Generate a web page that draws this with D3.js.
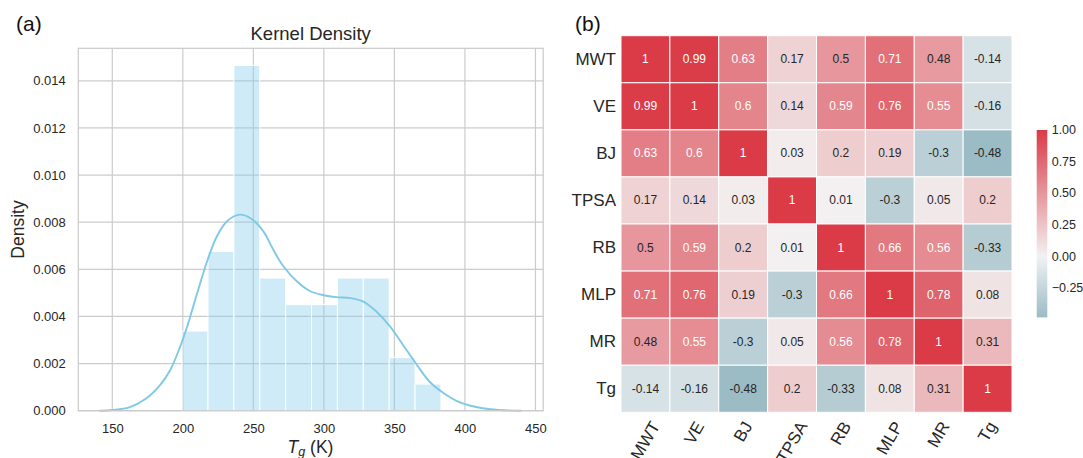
<!DOCTYPE html>
<html>
<head>
<meta charset="utf-8">
<script src="https://cdn.jsdelivr.net/npm/d3@7"></script>
<style>
  html, body { margin: 0; padding: 0; background: #fff; }
  svg { display: block; font-family: "Liberation Sans", Arial, sans-serif; }
</style>
</head>
<body>
<svg id="chart" width="1083" height="458"></svg>
<script>
// ---------------- DATA ----------------
// (a) histogram of Tg (density-normalised)
const binEdges = [199.5, 217.85, 236.2, 254.55, 272.9, 291.25, 309.6, 327.95, 346.3, 364.65, 383.0];
const binDensity = [0.00338, 0.00676, 0.01465, 0.00563, 0.0045, 0.0045, 0.00563, 0.00563, 0.00225, 0.00113];
// kernel density curve
const kdeX = [141, 150, 162, 174, 184, 191, 198, 203, 210, 217, 224, 231, 240, 248, 257, 264, 271, 281, 290, 300, 309, 319, 328, 337, 347, 356, 366, 375, 385, 394, 404, 418, 440];
const kdeY = [0, 0.00003, 0.00014, 0.00052, 0.0011, 0.00172, 0.0027, 0.00355, 0.00495, 0.0063, 0.00738, 0.00802, 0.00832, 0.00817, 0.00762, 0.00685, 0.00615, 0.00548, 0.00508, 0.0049, 0.00482, 0.00478, 0.00463, 0.00422, 0.00357, 0.0028, 0.00194, 0.00123, 0.00074, 0.00042, 0.00021, 0.00006, 0];
const xTicks = [150, 200, 250, 300, 350, 400, 450];
const yTicks = [0, 0.002, 0.004, 0.006, 0.008, 0.010, 0.012, 0.014];

// (b) correlation matrix
const variables = ["MWT", "VE", "BJ", "TPSA", "RB", "MLP", "MR", "Tg"];
const corrMWT  = [1, 0.99, 0.63, 0.17, 0.5, 0.71, 0.48, -0.14];
const corrVE   = [0.99, 1, 0.6, 0.14, 0.59, 0.76, 0.55, -0.16];
const corrBJ   = [0.63, 0.6, 1, 0.03, 0.2, 0.19, -0.3, -0.48];
const corrTPSA = [0.17, 0.14, 0.03, 1, 0.01, -0.3, 0.05, 0.2];
const corrRB   = [0.5, 0.59, 0.2, 0.01, 1, 0.66, 0.56, -0.33];
const corrMLP  = [0.71, 0.76, 0.19, -0.3, 0.66, 1, 0.78, 0.08];
const corrMR   = [0.48, 0.55, -0.3, 0.05, 0.56, 0.78, 1, 0.31];
const corrTg   = [-0.14, -0.16, -0.48, 0.2, -0.33, 0.08, 0.31, 1];
const colorbarTicks = [-0.25, 0, 0.25, 0.5, 0.75, 1.0];

// ---------------- COLOUR MAP (seaborn diverging_palette(220, 10), center 0) ----------------
function huslToRgb(H, S, L) {
  const m = [[3.2406, -1.5372, -0.4986], [-0.9689, 1.8758, 0.0415], [0.0557, -0.2040, 1.0570]];
  const refU = 0.19784, refV = 0.46834, labE = 0.008856, labK = 903.3;
  const hrad = H * Math.PI / 180, sinH = Math.sin(hrad), cosH = Math.cos(hrad);
  const sub1 = Math.pow(L + 16, 3) / 1560896;
  const sub2 = sub1 > labE ? sub1 : L / labK;
  let maxC = Infinity;
  for (const [m1, m2, m3] of m) {
    const top = (0.99915 * m1 + 1.05122 * m2 + 1.14460 * m3) * sub2;
    const rb = 0.86330 * m3 - 0.17266 * m2;
    const lb = 0.12949 * m3 - 0.38848 * m1;
    const bottom = (rb * sinH + lb * cosH) * sub2;
    for (const t of [0, 1]) {
      const C = L * (top - 1.05122 * t) / (bottom + 0.17266 * sinH * t);
      if (C > 0 && C < maxC) maxC = C;
    }
  }
  const C = maxC / 100 * S;
  const U = Math.cos(hrad) * C, V = Math.sin(hrad) * C;
  const tt = (L + 16) / 116;
  const Y = Math.pow(tt, 3) > labE ? Math.pow(tt, 3) : (116 * tt - 16) / labK;
  const vu = U / (13 * L) + refU, vv = V / (13 * L) + refV;
  const X = -(9 * Y * vu) / ((vu - 4) * vv - vu * vv);
  const Z = (9 * Y - 15 * vv * Y - vv * X) / (3 * vv);
  return m.map(r => {
    const c = r[0] * X + r[1] * Y + r[2] * Z;
    const v = c <= 0.0031308 ? 12.92 * c : 1.055 * Math.pow(c, 1 / 2.4) - 0.055;
    return Math.max(0, Math.min(1, v));
  });
}
const blueEnd = huslToRgb(220, 75, 50), blueGray = huslToRgb(220, 75 * 0.15, 95);
const redEnd = huslToRgb(10, 75, 50), redGray = huslToRgb(10, 75 * 0.15, 95);
const mix = (a, b, t) => a.map((v, i) => v + (b[i] - v) * t);
const pal = [];
for (let i = 0; i < 128; i++) pal.push(mix(blueEnd, blueGray, i / 127));
pal.push([0.95, 0.95, 0.95]);
for (let i = 0; i < 128; i++) pal.push(mix(redGray, redEnd, i / 127));
function cmapRgb(v) {
  const f = Math.max(0, Math.min(256, 128 + 128 * v));
  const i0 = Math.min(255, Math.floor(f));
  return mix(pal[i0], pal[i0 + 1], f - i0);
}
const toCss = c => d3.rgb(c[0] * 255, c[1] * 255, c[2] * 255).formatHex();
function lum(c) {
  const l = c.map(v => v <= 0.03928 ? v / 12.92 : Math.pow((v + 0.055) / 1.055, 2.4));
  return 0.2126 * l[0] + 0.7152 * l[1] + 0.0722 * l[2];
}

// ---------------- DRAW ----------------
const svg = d3.select("#chart");
svg.append("rect").attr("width", 1083).attr("height", 458).attr("fill", "#fff");
const textCol = "#262626";
const gridCol = "#cccccc";

// ===== Panel (a) =====
const x = d3.scaleLinear().domain([125.9, 455.5]).range([78.3, 543.2]);
const y = d3.scaleLinear().domain([0, 0.01538]).range([410.7, 48.3]);
const pa = svg.append("g");

// grid
pa.append("g").selectAll("line").data(xTicks).join("line")
  .attr("x1", d => x(d)).attr("x2", d => x(d)).attr("y1", y.range()[1]).attr("y2", y.range()[0])
  .attr("stroke", gridCol).attr("stroke-width", 1.2);
pa.append("g").selectAll("line").data(yTicks).join("line")
  .attr("x1", x.range()[0]).attr("x2", x.range()[1]).attr("y1", d => y(d)).attr("y2", d => y(d))
  .attr("stroke", gridCol).attr("stroke-width", 1.2);

// histogram bars
pa.append("g").selectAll("rect").data(binDensity).join("rect")
  .attr("x", (d, i) => x(binEdges[i]))
  .attr("width", (d, i) => x(binEdges[i + 1]) - x(binEdges[i]))
  .attr("y", d => y(d))
  .attr("height", d => y(0) - y(d))
  .attr("fill", "#87ceeb").attr("fill-opacity", 0.4)
  .attr("stroke", "#ffffff").attr("stroke-width", 1);

// KDE line
const kdePts = kdeX.map((v, i) => [v, kdeY[i]]);
pa.append("path").datum(kdePts)
  .attr("d", d3.line().x(d => x(d[0])).y(d => y(d[1])).curve(d3.curveCatmullRom.alpha(0.5)))
  .attr("fill", "none").attr("stroke", "#80c9e4").attr("stroke-width", 1.9);

// frame
pa.append("rect")
  .attr("x", x.range()[0]).attr("y", y.range()[1])
  .attr("width", x.range()[1] - x.range()[0]).attr("height", y.range()[0] - y.range()[1])
  .attr("fill", "none").attr("stroke", gridCol).attr("stroke-width", 1.25);

// axes
const xAxis = pa.append("g").attr("transform", `translate(0,${y.range()[0]})`)
  .call(d3.axisBottom(x).tickValues(xTicks).tickSize(0).tickPadding(13).tickFormat(d3.format("d")));
const yAxis = pa.append("g").attr("transform", `translate(${x.range()[0]},0)`)
  .call(d3.axisLeft(y).tickValues(yTicks).tickSize(0).tickPadding(12.5).tickFormat(d3.format(".3f")));
[xAxis, yAxis].forEach(g => {
  g.select(".domain").remove();
  g.selectAll("text").attr("fill", textCol).style("font-size", "13px").style("font-family", "'Liberation Sans', Arial, sans-serif");
});

// labels
pa.append("text").attr("x", 310.7).attr("y", 40).attr("text-anchor", "middle")
  .attr("fill", textCol).style("font-size", "18.5px").text("Kernel Density");
pa.append("text").attr("transform", "translate(18.3,229.5) rotate(-90)")
  .attr("text-anchor", "middle").attr("dominant-baseline", "central")
  .attr("fill", textCol).style("font-size", "17.5px").text("Density");
const xl = pa.append("text").attr("x", 310.5).attr("y", 452.5).attr("text-anchor", "middle")
  .attr("fill", textCol).style("font-size", "17.5px");
xl.append("tspan").attr("font-style", "italic").text("T");
xl.append("tspan").attr("font-style", "italic").attr("dy", 3).style("font-size", "12.5px").text("g");
xl.append("tspan").attr("dy", -3).text(" (K)");

svg.append("text").attr("x", 16).attr("y", 30.6).attr("fill", "#111").style("font-size", "21px").text("(a)");
svg.append("text").attr("x", 575).attr("y", 30.6).attr("fill", "#111").style("font-size", "21px").text("(b)");

// ===== Panel (b) =====
const matrix = [corrMWT, corrVE, corrBJ, corrTPSA, corrRB, corrMLP, corrMR, corrTg];
const xb = d3.scaleBand().domain(variables).range([621, 1012]);
const yb = d3.scaleBand().domain(variables).range([35.7, 412.3]);
const pb = svg.append("g");
const cells = [];
matrix.forEach((row, i) => row.forEach((v, j) => cells.push({ r: variables[i], c: variables[j], v })));

pb.append("g").selectAll("rect").data(cells).join("rect")
  .attr("x", d => xb(d.c)).attr("y", d => yb(d.r))
  .attr("width", xb.bandwidth()).attr("height", yb.bandwidth())
  .attr("fill", d => toCss(cmapRgb(d.v)))
  .attr("stroke", "#fff").attr("stroke-width", 1);

pb.append("g").selectAll("text").data(cells).join("text")
  .attr("x", d => xb(d.c) + xb.bandwidth() / 2)
  .attr("y", d => yb(d.r) + yb.bandwidth() / 2)
  .attr("text-anchor", "middle").attr("dominant-baseline", "central")
  .style("font-size", "12px")
  .attr("fill", d => lum(cmapRgb(d.v)) > 0.408 ? textCol : "#ffffff")
  .text(d => String(d.v));

// y labels
pb.append("g").selectAll("text").data(variables).join("text")
  .attr("x", 616).attr("y", d => yb(d) + yb.bandwidth() / 2)
  .attr("text-anchor", "end").attr("dominant-baseline", "central")
  .attr("fill", textCol).style("font-size", "17px").text(d => d);

// x labels rotated 60 deg
const xlab = pb.append("g").selectAll("text").data(variables).join("text")
  .attr("text-anchor", "middle").attr("dominant-baseline", "central")
  .attr("fill", textCol).style("font-size", "17px").text(d => d);
xlab.each(function (d) {
  const w = this.getComputedTextLength();
  const cy = 420 + (w * Math.sin(Math.PI / 3) + 12.2 * 0.5) / 2;
  d3.select(this).attr("transform", `translate(${xb(d) + xb.bandwidth() / 2},${cy}) rotate(-60)`);
});

// colorbar
const vmin = d3.min(matrix.flat()), vmax = d3.max(matrix.flat());
const cb = d3.scaleLinear().domain([vmin, vmax]).range([317.4, 130]);
const grad = svg.append("defs").append("linearGradient").attr("id", "cbgrad")
  .attr("x1", 0).attr("y1", 1).attr("x2", 0).attr("y2", 0);
d3.range(0, 1.0001, 1 / 64).forEach(t => {
  const v = vmin + t * (vmax - vmin);
  grad.append("stop").attr("offset", t).attr("stop-color", toCss(cmapRgb(v)));
});
pb.append("rect").attr("x", 1036.7).attr("y", cb(vmax)).attr("width", 10.6)
  .attr("height", cb(vmin) - cb(vmax)).attr("fill", "url(#cbgrad)");
pb.append("g").selectAll("text").data(colorbarTicks).join("text")
  .attr("x", 1051.7).attr("y", d => cb(d)).attr("dominant-baseline", "central")
  .attr("fill", textCol).style("font-size", "12.5px").text(d => d3.format(".2f")(d));
</script>
